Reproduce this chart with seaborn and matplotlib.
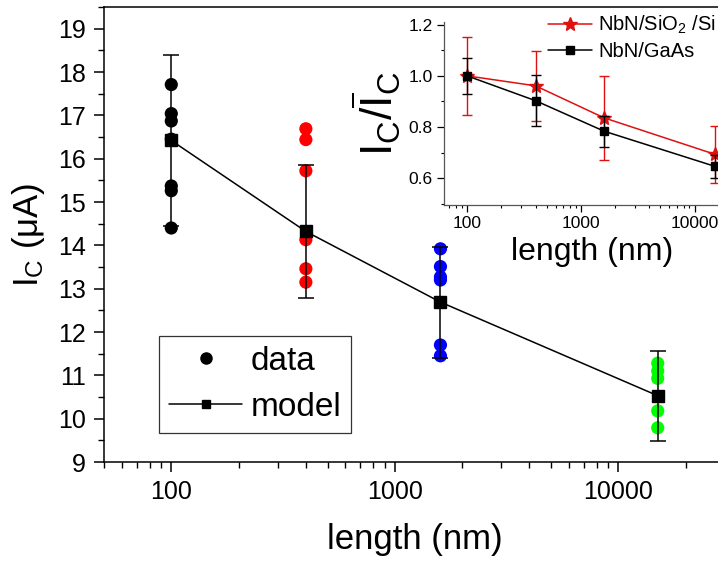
import numpy as np
import pandas as pd
import matplotlib
matplotlib.use("Agg")
import matplotlib.pyplot as plt
import matplotlib.ticker as mticker
from matplotlib.lines import Line2D
import seaborn as sns

# ---------------- data ----------------
lengths = [100, 400, 1600, 15000]
data_100 = [17.71, 17.04, 16.87, 16.45, 15.37, 15.26, 14.40]
data_400 = [16.69, 16.44, 15.72, 14.13, 13.46, 13.15]
data_1600 = [13.92, 13.51, 13.27, 13.20, 11.70, 11.45]
data_15000 = [11.28, 11.10, 10.93, 10.18, 9.79]
data_colors = ["#000000", "#ff0000", "#0000ff", "#00ff00"]

model_ic = [16.42, 14.32, 12.69, 10.53]
model_err = [1.97, 1.54, 1.28, 1.04]

inset_sio2 = [1.0, 0.961, 0.836, 0.694]
inset_sio2_err = [0.152, 0.137, 0.165, 0.112]
inset_gaas = [1.0, 0.903, 0.784, 0.647]
inset_gaas_err = [0.07, 0.10, 0.06, 0.045]

main_yticks = list(range(9, 20))
xtick_vals = [100, 1000, 10000]

# ---------------- style ----------------
sns.set_style("ticks")
plt.rcParams["font.family"] = ["Liberation Sans", "DejaVu Sans"]
plt.rcParams["mathtext.fontset"] = "custom"
plt.rcParams["mathtext.rm"] = "Liberation Sans"
plt.rcParams["mathtext.it"] = "Liberation Sans"
plt.rcParams["axes.linewidth"] = 1.1
for k in ["text.color", "axes.labelcolor", "xtick.color", "ytick.color", "axes.edgecolor"]:
    plt.rcParams[k] = "black"

fig = plt.figure(figsize=(7.18, 5.64), dpi=100)
W, H = 718, 564

def px_axes(l, t, r, b):
    return [l / W, 1 - b / H, (r - l) / W, (b - t) / H]

# ---------------- main axes ----------------
ax = fig.add_axes(px_axes(104, 7, 725, 462))

rows = []
for L, vals, c in zip(lengths, [data_100, data_400, data_1600, data_15000], data_colors):
    for v in vals:
        rows.append({"length": L, "Ic": v, "grp": str(L)})
df = pd.DataFrame(rows)
sns.scatterplot(data=df, x="length", y="Ic", hue="grp",
                palette=dict(zip([str(l) for l in lengths], data_colors)),
                s=90, edgecolor="none", ax=ax, legend=False, zorder=2)

ax.errorbar(lengths, model_ic, yerr=model_err, color="black", lw=1.1,
            marker="s", ms=8, capsize=5.5, capthick=1.1, elinewidth=1.1, zorder=3)

ax.set_xscale("log")
ax.set_xlim(50, 30000)
ax.set_ylim(9, 19.5)
ax.set_yticks(main_yticks)
ax.yaxis.set_minor_locator(mticker.MultipleLocator(0.5))
ax.xaxis.set_major_locator(mticker.FixedLocator(xtick_vals))
ax.xaxis.set_major_formatter(mticker.FuncFormatter(lambda v, p: f"{v:g}"))
ax.xaxis.set_minor_locator(mticker.LogLocator(base=10, subs=np.arange(2, 10)))
ax.xaxis.set_minor_formatter(mticker.NullFormatter())
ax.tick_params(which="major", direction="out", length=7, width=1.1, labelsize=18, pad=6)
ax.tick_params(which="minor", direction="out", length=4, width=1.0)
for s in ["top", "right", "left", "bottom"]:
    ax.spines[s].set_visible(True)
    ax.spines[s].set_color("black")
ax.set_xlabel("length (nm)", fontsize=25, labelpad=14)
ax.set_ylabel(r"I$_\mathregular{C}$ (μA)", fontsize=25, labelpad=8)

handles = [Line2D([], [], color="black", marker="o", ls="none", ms=8),
           Line2D([], [], color="black", marker="s", ls="-", lw=1.1, ms=6)]
leg = ax.legend(handles, ["data", "model"], loc="lower left",
                bbox_to_anchor=(159 / W, 1 - 433 / H), bbox_transform=fig.transFigure,
                fontsize=24, frameon=True, fancybox=False, handlelength=2.2,
                handletextpad=0.25, borderpad=0.3, labelspacing=0.45, borderaxespad=0)
leg.get_frame().set_edgecolor("black")
leg.get_frame().set_linewidth(0.9)

# ---------------- inset ----------------
ins = fig.add_axes(px_axes(444, 22, 740, 205))
ins.patch.set_alpha(0)
ins.errorbar(lengths, inset_sio2, yerr=inset_sio2_err, color="#e01010", lw=1.1,
             marker="*", ms=10, capsize=3.6, capthick=1.0, elinewidth=1.0, zorder=3)
ins.errorbar(lengths, inset_gaas, yerr=inset_gaas_err, color="black", lw=1.1,
             marker="s", ms=6, capsize=3.6, capthick=1.0, elinewidth=1.0, zorder=4)
ins.set_xscale("log")
ins.set_xlim(62.8, 25000)
ins.set_ylim(0.496, 1.21)
ins.yaxis.set_major_locator(mticker.FixedLocator([0.6, 0.8, 1.0, 1.2]))
ins.yaxis.set_major_formatter(mticker.FormatStrFormatter("%.1f"))
ins.yaxis.set_minor_locator(mticker.MultipleLocator(0.1))
ins.xaxis.set_major_locator(mticker.FixedLocator(xtick_vals))
ins.xaxis.set_major_formatter(mticker.FuncFormatter(lambda v, p: f"{v:g}"))
ins.xaxis.set_minor_locator(mticker.LogLocator(base=10, subs=np.arange(2, 10)))
ins.xaxis.set_minor_formatter(mticker.NullFormatter())
ins.tick_params(which="major", direction="out", length=5, width=0.9, labelsize=12.5, pad=3)
ins.tick_params(which="minor", direction="out", length=2.5, width=0.8)
ins.spines["top"].set_visible(False)
for s in ["left", "bottom", "right"]:
    ins.spines[s].set_color("#555555")
    ins.spines[s].set_linewidth(0.9)
ins.set_xlabel("length (nm)", fontsize=23, labelpad=4)
ins.set_ylabel(r"I$_\mathregular{C}$/$\overline{\mathregular{I}}_\mathregular{C}$",
               fontsize=32, labelpad=4)
ih = [Line2D([], [], color="#e01010", marker="*", ls="-", lw=1.1, ms=10),
      Line2D([], [], color="black", marker="s", ls="-", lw=1.1, ms=6)]
ileg = ins.legend(ih, [r"NbN/SiO$_\mathregular{2}$ /Si", "NbN/GaAs"],
                  loc="upper right", bbox_to_anchor=(716 / W, 1 - 14 / H),
                  bbox_transform=fig.transFigure, frameon=False,
                  fontsize=14.5, handlelength=2.2, handletextpad=0.3,
                  labelspacing=0.3, borderaxespad=0, borderpad=0)

fig.savefig("out.png", dpi=100)
